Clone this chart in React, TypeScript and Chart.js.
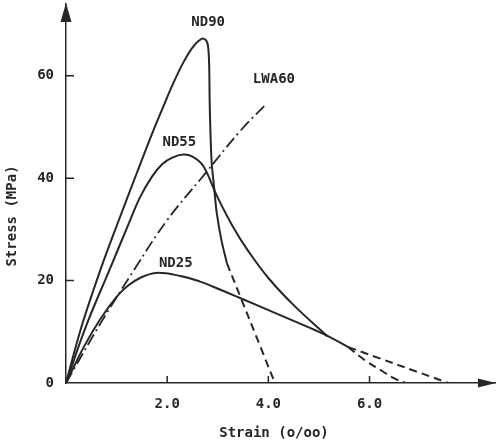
import { useEffect, useRef } from "react";
import { Chart, registerables } from "chart.js";

Chart.register(...registerables);

// Stress–strain curves (strain in o/oo, stress in MPa)
const nd90Strain = [0, 0.3, 0.67, 1.01, 1.4, 1.71, 1.95, 2.11, 2.32, 2.5, 2.68, 2.77, 2.81, 2.83, 2.84, 2.855, 2.88, 2.93, 2.98, 3.07, 3.18];
const nd90Stress = [0, 10.8, 21.8, 30.9, 41.0, 48.9, 54.6, 58.3, 62.6, 65.5, 67.2, 66.9, 65.6, 62, 55, 49, 43, 38, 33.2, 28, 23.4];
const nd90TailStrain = [3.18, 4.13];
const nd90TailStress = [23.4, 0];

const nd55Strain = [0, 0.4, 0.86, 1.24, 1.46, 1.7, 1.9, 2.1, 2.32, 2.5, 2.71, 2.98, 3.3, 3.6, 4.0, 4.5, 5.17];
const nd55Stress = [0, 11.2, 22.1, 31.1, 36.2, 40.3, 42.7, 44.0, 44.6, 44.2, 42.4, 36.6, 30.5, 25.8, 20.5, 15.2, 9.1];
const nd55TailStrain = [5.58, 5.9, 6.22, 6.49, 6.71];
const nd55TailStress = [7.0, 4.5, 2.5, 0.9, 0];

const nd25Strain = [0, 0.35, 0.68, 1.0, 1.21, 1.5, 1.79, 2.26, 2.65, 2.91, 3.44, 4.22, 4.93, 5.17, 5.58];
const nd25Stress = [0, 7.0, 12.5, 16.8, 18.9, 20.7, 21.5, 20.9, 19.8, 18.8, 16.6, 13.3, 10.3, 9.2, 7.0];
const nd25TailStrain = [5.58, 7.56];
const nd25TailStress = [7.0, 0];

const lwa60Strain = [0, 0.68, 1.36, 2.0, 2.71, 3.47, 3.98];
const lwa60Stress = [0, 11.6, 22.3, 31.8, 40.4, 49.5, 54.7];

// Curve names and where each name sits (in data units)
const curveNames = ["ND90", "ND55", "ND25", "LWA60"];
const nameStrain = [2.81, 2.24, 2.17, 4.11];
const nameStress = [70.5, 46.9, 23.3, 59.2];

const xTickValues = [2, 4, 6];
const yTickValues = [0, 20, 40, 60];
const xTitle = "Strain (o/oo)";
const yTitle = "Stress (MPa)";

const INK = "#262626";
const FONT = '"DejaVu Sans Mono", monospace';
const WEIGHT = "bold";

const pts = (xs: number[], ys: number[]) => xs.map((x, i) => ({ x, y: ys[i] }));

const decorPlugin = {
  id: "axisDecor",
  afterDraw(chart: any) {
    const { ctx, chartArea, scales } = chart;
    const xs = scales.x;
    const ys = scales.y;
    const { left, right, top, bottom } = chartArea;
    ctx.save();
    ctx.strokeStyle = INK;
    ctx.fillStyle = INK;
    ctx.lineWidth = 1.5;

    // inward tick marks
    ctx.beginPath();
    yTickValues.forEach((v) => {
      if (v === 0) return;
      const py = ys.getPixelForValue(v);
      ctx.moveTo(left, py);
      ctx.lineTo(left + 8, py);
    });
    xTickValues.forEach((v) => {
      const px = xs.getPixelForValue(v);
      ctx.moveTo(px, bottom);
      ctx.lineTo(px, bottom - 7);
    });
    ctx.stroke();

    // arrowheads
    ctx.beginPath();
    ctx.moveTo(left, top - 1);
    ctx.lineTo(left - 5.5, top + 18);
    ctx.lineTo(left + 5.5, top + 18);
    ctx.closePath();
    ctx.fill();
    ctx.beginPath();
    ctx.moveTo(right + 1, bottom);
    ctx.lineTo(right - 17, bottom - 4.5);
    ctx.lineTo(right - 17, bottom + 4.5);
    ctx.closePath();
    ctx.fill();

    // curve names
    ctx.font = `${WEIGHT} 14px ${FONT}`;
    ctx.textAlign = "center";
    ctx.textBaseline = "middle";
    curveNames.forEach((n, i) => {
      ctx.fillText(n, xs.getPixelForValue(nameStrain[i]), ys.getPixelForValue(nameStress[i]));
    });

    // axis titles
    ctx.fillText(xTitle, left + 208, bottom + 50);
    ctx.translate(12, top + 212);
    ctx.rotate(-Math.PI / 2);
    ctx.fillText(yTitle, 0, 0);
    ctx.restore();
  },
};

export default function App() {
  const canvasRef = useRef<HTMLCanvasElement | null>(null);

  useEffect(() => {
    document.body.style.margin = "0";
    const canvas = canvasRef.current;
    if (!canvas) return;

    const solid = {
      borderColor: INK,
      borderWidth: 2,
      pointRadius: 0,
      tension: 0.4,
      fill: false,
    };
    const dashed = { ...solid, borderDash: [8, 5] };

    const chart = new Chart(canvas, {
      type: "line",
      data: {
        datasets: [
          { label: "ND90", data: pts(nd90Strain, nd90Stress), ...solid, tension: 0.35 },
          { label: "ND90 tail", data: pts(nd90TailStrain, nd90TailStress), ...dashed },
          { label: "ND55", data: pts(nd55Strain, nd55Stress), ...solid },
          { label: "ND55 tail", data: pts(nd55TailStrain, nd55TailStress), ...dashed },
          { label: "ND25", data: pts(nd25Strain, nd25Stress), ...solid },
          { label: "ND25 tail", data: pts(nd25TailStrain, nd25TailStress), ...dashed },
          {
            label: "LWA60",
            data: pts(lwa60Strain, lwa60Stress),
            ...solid,
            borderWidth: 1.8,
            borderDash: [12, 4, 2, 4],
          },
        ],
      },
      options: {
        responsive: false,
        animation: false,
        layout: { padding: { top: 4, right: 3, left: 0, bottom: 0 } },
        plugins: { legend: { display: false }, tooltip: { enabled: false } },
        scales: {
          x: {
            type: "linear",
            min: 0,
            max: 8.48,
            afterFit: (s: any) => {
              s.height = 65;
              s.paddingLeft = 0;
              s.paddingRight = 0;
            },
            afterBuildTicks: (s: any) => {
              s.ticks = xTickValues.map((value) => ({ value }));
            },
            ticks: {
              callback: (v: any) => Number(v).toFixed(1),
              font: { family: FONT, size: 14, weight: WEIGHT },
              color: INK,
              padding: 13,
              maxRotation: 0,
              autoSkip: false,
            },
            grid: { display: true, drawOnChartArea: false, drawTicks: false },
            border: { display: true, color: INK, width: 1.5 },
          },
          y: {
            type: "linear",
            min: 0,
            max: 74,
            afterFit: (s: any) => {
              s.width = 66;
              s.paddingTop = 0;
              s.paddingBottom = 0;
            },
            afterBuildTicks: (s: any) => {
              s.ticks = yTickValues.map((value) => ({ value }));
            },
            ticks: {
              font: { family: FONT, size: 14, weight: WEIGHT },
              color: INK,
              padding: 12,
              autoSkip: false,
            },
            grid: { display: true, drawOnChartArea: false, drawTicks: false },
            border: { display: true, color: INK, width: 1.5 },
          },
        },
      },
      plugins: [decorPlugin],
    });

    return () => chart.destroy();
  }, []);

  return (
    <div style={{ width: 498, height: 448, background: "#fff" }}>
      <canvas ref={canvasRef} width={498} height={448} style={{ display: "block" }} />
    </div>
  );
}
